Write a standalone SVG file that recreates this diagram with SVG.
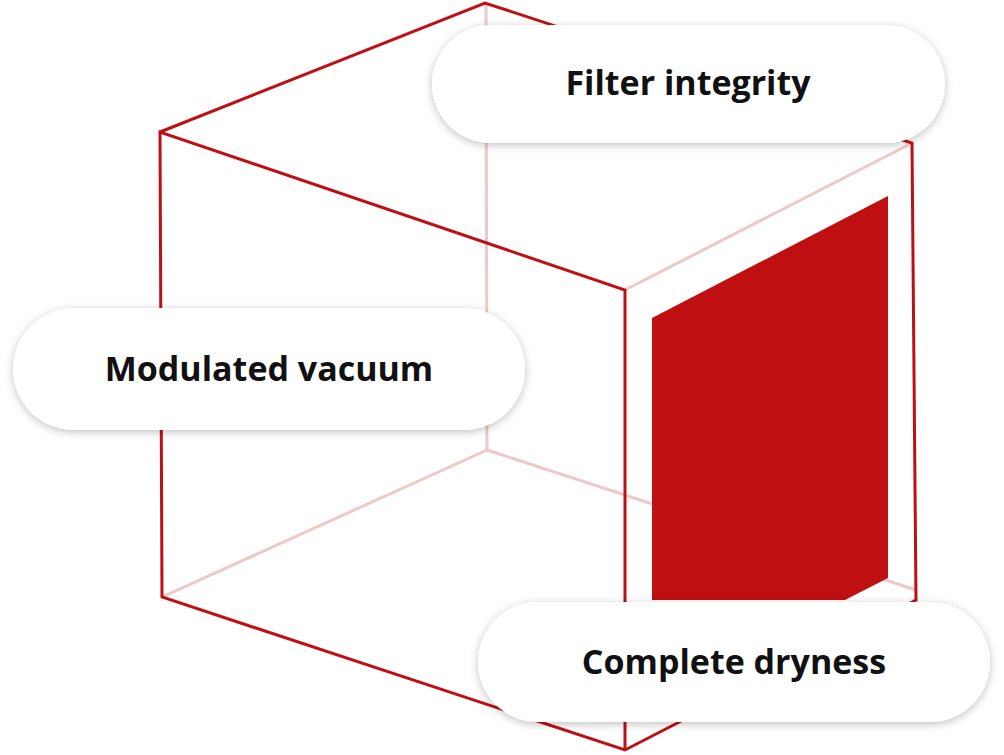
<svg xmlns="http://www.w3.org/2000/svg" width="1004" height="755" viewBox="0 0 1004 755">
<defs>
<style>
.dk{stroke:#c00f14;stroke-width:3;fill:none}
.lt{stroke:#efc8c8;stroke-width:3;fill:none}
.pill{fill:#fff;filter:url(#sh)}
.lbl{font-family:"Open Sans","Liberation Sans",sans-serif;font-weight:700;font-size:34px;fill:#111;text-anchor:middle}
</style>
<filter id="sh" x="-10%" y="-30%" width="120%" height="160%"><feDropShadow dx="0" dy="2" stdDeviation="4" flood-color="#000" flood-opacity="0.25"/></filter>
</defs>
<rect width="1004" height="755" fill="#fff"/>
<g id="connectors">
<line class="lt" x1="486" y1="3" x2="487" y2="450"/>
<line class="lt" x1="487" y1="450" x2="162" y2="597"/>
<line class="lt" x1="487" y1="450" x2="916" y2="590"/>
<line class="lt" x1="625" y1="290" x2="912" y2="143"/>
<polyline class="dk" points="160,132 485,3 912,143 916,600 625,750 162,597 160,132 625,290 625,750"/>
</g>
<polygon id="panel" points="652,318 888,196 888,578 845,600 652,600" fill="#c00f10"/>
<g id="filter-integrity"><rect class="pill" x="432" y="25" width="513" height="118" rx="59"/><text class="lbl" x="688" y="95">Filter integrity</text></g>
<g id="modulated-vacuum"><rect class="pill" x="13" y="308" width="512" height="122" rx="61"/><text class="lbl" x="269" y="381">Modulated vacuum</text></g>
<g id="complete-dryness"><rect class="pill" x="478" y="602" width="512" height="120" rx="60"/><text class="lbl" x="734" y="674">Complete dryness</text></g>
</svg>
